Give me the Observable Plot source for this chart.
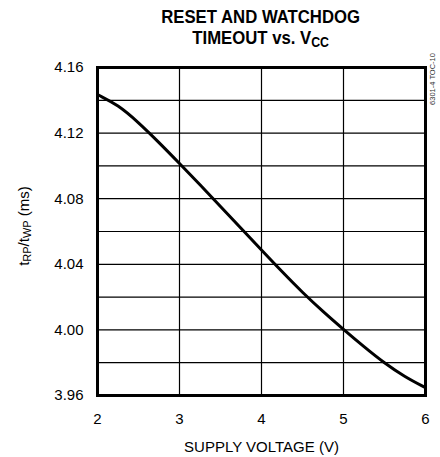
<!DOCTYPE html>
<html>
<head>
<meta charset="utf-8">
<script src="https://cdn.jsdelivr.net/npm/d3@7"></script>
<script src="https://cdn.jsdelivr.net/npm/@observablehq/plot@0.6"></script>
<style>
  html, body { margin: 0; padding: 0; background: #fff; }
  #wrap { position: relative; width: 440px; height: 457px; overflow: hidden; font-family: "Liberation Sans", Arial, sans-serif; }
  #title { position: absolute; left: 97px; width: 328px; top: 6px; text-align: center;
    font-family: "Liberation Sans Narrow", "Arial Narrow", "Liberation Sans", sans-serif; font-weight: bold;
    font-size: 19px; line-height: 21px; color: #000; transform: scaleX(0.88); transform-origin: 161px 0; }
  #title sub { font-size: 14px; vertical-align: -3px; line-height: 0; }
  #chart { position: absolute; left: 0; top: 58px; }
  #ylab { position: absolute; left: 23px; top: 226px; transform: translate(-50%, -50%) rotate(-90deg);
    white-space: nowrap; font-size: 15px; color: #000; }
  #ylab sub { font-size: 11px; vertical-align: -2px; line-height: 0; }
  #note { position: absolute; left: 432px; top: 79px; transform: translate(-50%, -50%) rotate(-90deg);
    white-space: nowrap; font-size: 7.5px; color: #333; }
</style>
</head>
<body>
<div id="wrap">
  <div id="title">RESET AND WATCHDOG<br>TIMEOUT vs. V<sub>CC</sub></div>
  <div id="chart"></div>
  <div id="ylab">t<sub>RP</sub>/t<sub>WP</sub> (ms)</div>
  <div id="note">6301-4 TOC-10</div>
</div>
<script>
// Supply voltage (V)
const vcc = [2, 2.25, 2.5, 2.75, 3, 3.25, 3.5, 3.75, 4, 4.25, 4.5, 4.75, 5, 5.25, 5.5, 5.75, 6];
// Reset / watchdog timeout (ms)
const timeout = [4.1435, 4.1372, 4.1265, 4.1143, 4.1015, 4.0885, 4.0753, 4.062, 4.0487, 4.0355, 4.0228, 4.0112, 4.0003, 3.9897, 3.9797, 3.9713, 3.9648];
// Axis ticks
const xTicks = [2, 3, 4, 5, 6];
const yTicks = [3.96, 4.00, 4.04, 4.08, 4.12, 4.16];
const yGrid = [3.98, 4.00, 4.02, 4.04, 4.06, 4.08, 4.10, 4.12, 4.14];
const xGrid = [3, 4, 5];

const data = vcc.map((v, i) => ({ v, t: timeout[i] }));

const plot = Plot.plot({
  width: 440,
  height: 399,
  marginTop: 9,
  marginLeft: 97,
  marginRight: 15,
  marginBottom: 62,
  style: { fontFamily: "'Liberation Sans', Arial, sans-serif", fontSize: "15px", color: "#000", background: "#fff" },
  x: { domain: [2, 6], ticks: xTicks, tickSize: 0, tickPadding: 18, tickFormat: d3.format("d"), label: "SUPPLY VOLTAGE (V)", labelAnchor: "center", labelArrow: "none", labelOffset: 56 },
  y: { domain: [3.96, 4.16], ticks: yTicks, tickSize: 0, tickPadding: 14, tickFormat: d3.format(".2f"), label: null },
  marks: [
    Plot.ruleY(yGrid, { stroke: "#000", strokeWidth: 1.2 }),
    Plot.ruleX(xGrid, { stroke: "#000", strokeWidth: 1.2 }),
    Plot.line(data, { x: "v", y: "t", curve: "basis", stroke: "#000", strokeWidth: 3 }),
    Plot.frame({ stroke: "#000", strokeWidth: 3 })
  ]
});
document.getElementById("chart").appendChild(plot);
</script>
</body>
</html>
